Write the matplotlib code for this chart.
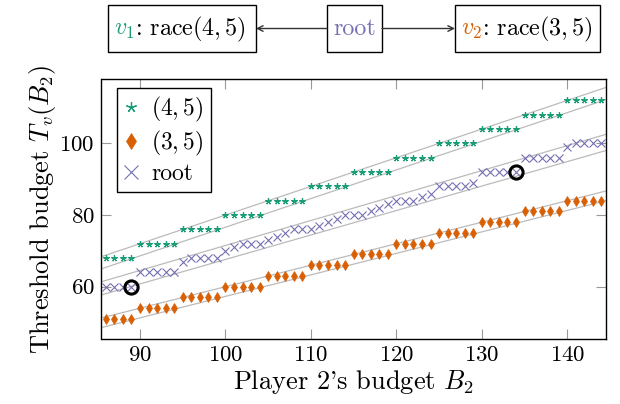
import matplotlib
matplotlib.use('Agg')
import matplotlib.pyplot as plt
from matplotlib.patches import Rectangle, FancyArrowPatch

plt.rcParams['font.family'] = ['cmr10', 'DejaVu Serif']
plt.rcParams['mathtext.fontset'] = 'cm'
plt.rcParams['axes.formatter.use_mathtext'] = True
plt.rcParams['font.size'] = 16

# ---------------- data ----------------
budgets = [86, 87, 88, 89,
           90, 91, 92, 93, 94, 95, 96, 97, 98, 99,
           100, 101, 102, 103, 104, 105, 106, 107, 108, 109,
           110, 111, 112, 113, 114, 115, 116, 117, 118, 119,
           120, 121, 122, 123, 124, 125, 126, 127, 128, 129,
           130, 131, 132, 133, 134, 135, 136, 137, 138, 139,
           140, 141, 142, 143, 144]

threshold_45 = [68, 68, 68, 68,
                72, 72, 72, 72, 72, 76, 76, 76, 76, 76,
                80, 80, 80, 80, 80, 84, 84, 84, 84, 84,
                88, 88, 88, 88, 88, 92, 92, 92, 92, 92,
                96, 96, 96, 96, 96, 100, 100, 100, 100, 100,
                104, 104, 104, 104, 104, 108, 108, 108, 108, 108,
                112, 112, 112, 112, 112]

threshold_35 = [51, 51, 51, 51,
                54, 54, 54, 54, 54, 57, 57, 57, 57, 57,
                60, 60, 60, 60, 60, 63, 63, 63, 63, 63,
                66, 66, 66, 66, 66, 69, 69, 69, 69, 69,
                72, 72, 72, 72, 72, 75, 75, 75, 75, 75,
                78, 78, 78, 78, 78, 81, 81, 81, 81, 81,
                84, 84, 84, 84, 84]

threshold_root = [60, 60, 60, 60,
                  64, 64, 64, 64, 64, 67, 68, 68, 68, 68,
                  70, 71, 72, 72, 72, 73, 74, 75, 76, 76,
                  76, 77, 78, 79, 80, 80, 80, 81, 82, 83,
                  84, 84, 84, 85, 86, 88, 88, 88, 88, 89,
                  92, 92, 92, 92, 92, 96, 96, 96, 96, 96,
                  99, 100, 100, 100, 100]

highlight_x = [89, 134]
highlight_y = [60, 92]

# bounding lines: slope, intercept
bound_slopes = [0.8, 0.8, 0.697, 0.683, 0.6, 0.6]
bound_intercepts = [0.0, -3.4, 1.8, -0.7, 0.0, -2.7]

xticks = [90, 100, 110, 120, 130, 140]
yticks = [60, 80, 100]
xlim = (85.5, 144.5)
ylim = (45.4, 117.9)

legend_labels = ['$(4,5)$', '$(3,5)$', 'root']

GREEN = '#1b9e77'
ORANGE = '#d95f02'
PURPLE = '#7570b3'
FS_LABEL = 19
FS_LEG = 17
FS_BOX = 17.3

# ---------------- figure ----------------
W, H = 620, 404
fig = plt.figure(figsize=(W / 100, H / 100), dpi=100)


def fx(x):
    return x / W


def fy(y):
    return 1 - y / H


ax = fig.add_axes([fx(101.5), fy(339), (605.7 - 101.5) / W, (339 - 79.3) / H])

for m, c in zip(bound_slopes, bound_intercepts):
    ax.plot(list(xlim), [m * xlim[0] + c, m * xlim[1] + c], color='#bbbbbb', lw=0.9, zorder=1)

ax.plot(budgets, threshold_45, ls='none', marker=(5, 2, 0), ms=4.5, color=GREEN, mec=GREEN, mew=0.9,
        label=legend_labels[0], zorder=3)
ax.plot(budgets, threshold_35, ls='none', marker='d', ms=4.8, color=ORANGE, mec=ORANGE, mew=0.5,
        label=legend_labels[1], zorder=3)
ax.plot(budgets, threshold_root, ls='none', marker='x', ms=6, color=PURPLE, mew=0.8,
        label=legend_labels[2], zorder=3)
ax.plot(highlight_x, highlight_y, ls='none', marker='o', ms=9.5, mfc='none', mec='black', mew=2.2, zorder=4)

ax.set_xlim(*xlim)
ax.set_ylim(*ylim)
ax.set_xticks(xticks, labels=[f'${t}$' for t in xticks])
ax.set_yticks(yticks, labels=[f'${t}$' for t in yticks])
ax.tick_params(direction='in', length=7, width=0.8, color='#999999', top=True, right=True,
               labelsize=16.5, pad=5)
for s in ax.spines.values():
    s.set_linewidth(1.0)
    s.set_color('black')

ax.set_xlabel("Player 2's budget $B_2$", fontsize=FS_LABEL, labelpad=2)
ax.set_ylabel('Threshold budget $T_v(B_2)$', fontsize=FS_LABEL, labelpad=1)

leg = ax.legend(loc='upper left', bbox_to_anchor=(0.031, 0.966), borderaxespad=0,
                fancybox=False, edgecolor='black', framealpha=1, markerscale=1.7,
                handlelength=0.6, handletextpad=0.55, labelspacing=0.2, borderpad=0.3,
                fontsize=FS_LEG)
leg.get_frame().set_linewidth(1.0)

# ---------------- top diagram ----------------
box_specs = [(108, 256), (327, 382), (455, 600)]
box_top, box_bot = 5, 52
for x0, x1 in box_specs:
    fig.add_artist(Rectangle((fx(x0), fy(box_bot)), (x1 - x0) / W, (box_bot - box_top) / H,
                             transform=fig.transFigure, fill=False, ec='black', lw=1.0))

yc = 28.5
base = 35
for (xa, xb) in [(327, 256), (382, 455)]:
    fig.add_artist(FancyArrowPatch((fx(xa), fy(yc)), (fx(xb), fy(yc)), transform=fig.transFigure,
                                   arrowstyle='->', mutation_scale=10, lw=1.0, color='#333333',
                                   shrinkA=0, shrinkB=0))

fig.canvas.draw()
r = fig.canvas.get_renderer()

t1 = fig.text(fx(114), fy(base), '$v_1$', color=GREEN, va='baseline', ha='left', fontsize=FS_BOX)
bb = t1.get_window_extent(r)
fig.text(bb.x1 / W, fy(base), ': race$(4,5)$', color='black', va='baseline', ha='left', fontsize=FS_BOX)

fig.text(fx(354.5), fy(base), 'root', color=PURPLE, va='baseline', ha='center', fontsize=FS_BOX)

t2 = fig.text(fx(461), fy(base), '$v_2$', color=ORANGE, va='baseline', ha='left', fontsize=FS_BOX)
bb = t2.get_window_extent(r)
fig.text(bb.x1 / W, fy(base), ': race$(3,5)$', color='black', va='baseline', ha='left', fontsize=FS_BOX)

fig.savefig('out.png', dpi=100)
